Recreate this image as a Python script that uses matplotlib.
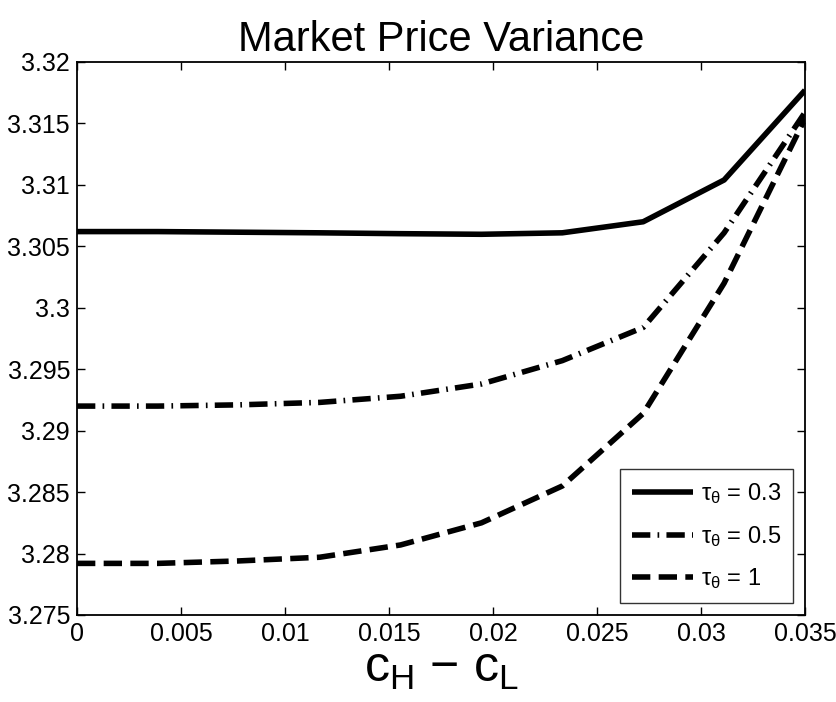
import numpy as np
import matplotlib
matplotlib.use("Agg")
import matplotlib.pyplot as plt

plt.rcParams['font.family'] = ['Liberation Sans', 'DejaVu Sans']
plt.rcParams['mathtext.fontset'] = 'custom'
plt.rcParams['mathtext.rm'] = 'Liberation Sans'
plt.rcParams['mathtext.it'] = 'Liberation Sans'
plt.rcParams['mathtext.sf'] = 'Liberation Sans'
plt.rcParams['mathtext.default'] = 'regular'

x = [0.0, 0.003889, 0.007778, 0.011667, 0.015556, 0.019444, 0.023333, 0.027222, 0.031111, 0.035]
tau_03 = [3.3062, 3.3062, 3.30615, 3.3061, 3.30603, 3.30598, 3.3061, 3.3070, 3.3104, 3.3177]
tau_05 = [3.2920, 3.2920, 3.2921, 3.2923, 3.2928, 3.2938, 3.2957, 3.2984, 3.3061, 3.3159]
tau_1 = [3.2792, 3.2792, 3.2794, 3.2797, 3.2807, 3.2825, 3.2855, 3.2914, 3.3020, 3.3154]
labels = [r'$\tau_\theta$ = 0.3', r'$\tau_\theta$ = 0.5', r'$\tau_\theta$ = 1']
xticks = [0, 0.005, 0.01, 0.015, 0.02, 0.025, 0.03, 0.035]
yticks = [3.275, 3.28, 3.285, 3.29, 3.295, 3.3, 3.305, 3.31, 3.315, 3.32]

fig = plt.figure(figsize=(8.37, 7.02), dpi=100)
ax = fig.add_axes([77/837, 1 - 615/702, (805-77)/837, (615-62)/702])

lw = 4
ax.plot(x, tau_03, color='black', lw=lw, solid_capstyle='butt', label=labels[0])
ax.plot(x, tau_05, color='black', lw=lw, dashes=(3.3, 1.3, 0.3, 1.3), dash_capstyle='butt', label=labels[1])
ax.plot(x, tau_1, color='black', lw=lw, dashes=(3.3, 1.5), dash_capstyle='butt', label=labels[2])

ax.set_xlim(0, 0.035)
ax.set_ylim(3.275, 3.32)
ax.set_xticks(xticks)
ax.set_xticklabels(['0', '0.005', '0.01', '0.015', '0.02', '0.025', '0.03', '0.035'])
ax.set_yticks(yticks)
ax.set_yticklabels(['3.275', '3.28', '3.285', '3.29', '3.295', '3.3', '3.305', '3.31', '3.315', '3.32'])
ax.tick_params(direction='in', top=True, right=True, length=6, width=1, labelsize=18, pad=5)
for s in ax.spines.values():
    s.set_linewidth(1.3)

ax.set_title('Market Price Variance', fontsize=30, pad=8)
ax.set_xlabel(r'$c_H$ $-$ $c_L$', fontsize=36, labelpad=0)

leg = ax.legend(loc='lower right', fontsize=17, frameon=True, fancybox=False,
                edgecolor='black', handlelength=2.6, handletextpad=0.35,
                borderaxespad=0.5, labelspacing=0.75, borderpad=0.5)
leg.get_frame().set_linewidth(1.0)

fig.savefig('out.png', dpi=100, facecolor='white')
